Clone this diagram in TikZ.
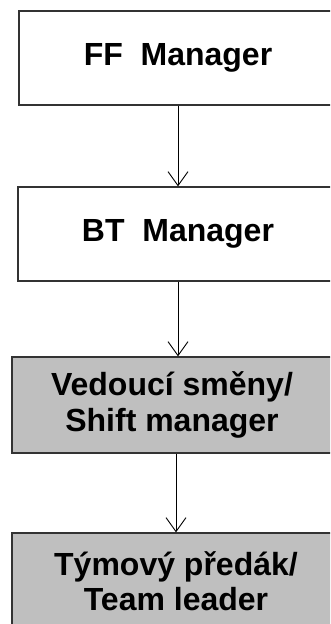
\documentclass[tikz,border=0pt]{standalone}
\usepackage{fontspec}
\setmainfont{Liberation Sans}
\usetikzlibrary{arrows.meta}

\begin{document}
\begin{tikzpicture}[x=1pt,y=1pt,
		box/.style={draw=black!80, line width=1.3pt, fill=white, align=center,
			font=\fontsize{32}{35.5}\selectfont\bfseries, inner sep=0pt},
		greybox/.style={box, fill=black!25},
		link/.style={line width=0.9pt, -{Straight Barb[length=14pt,width=20pt,line width=0.9pt]}}]
		
		\clip (0,0) rectangle (330,-624);
		
		\node[box, minimum width=318pt, minimum height=94pt] (ff) at (178,-58) {FF~~Manager};
		\node[box, minimum width=320pt, minimum height=94pt] (bt) at (178,-234) {BT~~Manager};
		\node[greybox, minimum width=320pt, minimum height=96pt] (vs) at (172,-405) {Vedoucí směny/\\Shift manager};
		\node[greybox, minimum width=328pt, minimum height=96pt] (tp) at (176,-581) {Týmový předák/\\Team leader};
		
		\draw[link] (ff) -- (bt);
		\draw[link] (bt) -- (bt |- vs.north);
		\draw[link] (vs.south -| tp) -- (tp);
	
		\end{tikzpicture}
\end{document}
